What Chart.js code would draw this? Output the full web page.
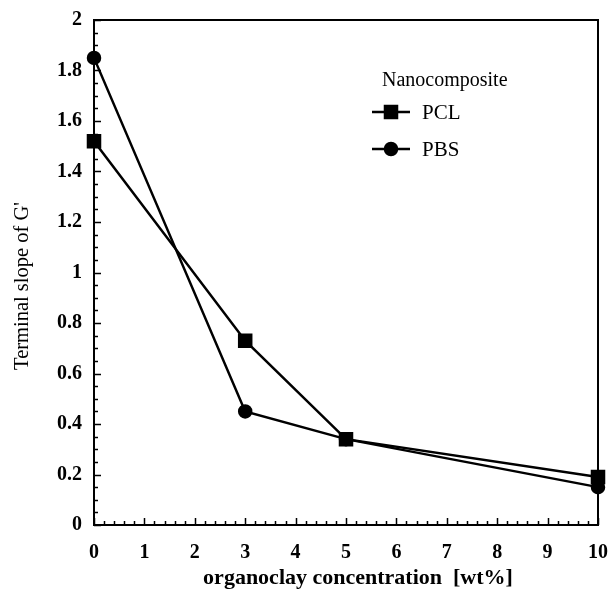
<!DOCTYPE html>
<html><head><meta charset="utf-8">
<script src="https://cdn.jsdelivr.net/npm/chart.js@4"></script>
<style>html,body{margin:0;padding:0;background:#fff}#wrap{width:611px;height:600px}</style>
</head><body><div id="wrap"><canvas id="c" width="611" height="600"></canvas></div>
<script>
const concentration = [0, 3, 5, 10];
const pclSlope = [1.52, 0.73, 0.34, 0.19];
const pbsSlope = [1.85, 0.45, 0.34, 0.15];
const seriesNames = ['PCL', 'PBS'];
const legendTitle = 'Nanocomposite';
const xTitle = 'organoclay concentration  [wt%]';
const yTitle = "Terminal slope of G'";
const xRange = [0, 10];
const yRange = [0, 2];

const FONT = "'Liberation Serif', 'Times New Roman', serif";

const frame = {
  id: 'frame',
  afterDraw(chart) {
    const ctx = chart.ctx, a = chart.chartArea;
    const xs = chart.scales.x, ys = chart.scales.y;
    ctx.save();
    ctx.strokeStyle = '#000';
    ctx.lineWidth = 2;
    ctx.strokeRect(a.left, a.top, a.right - a.left, a.bottom - a.top);
    ctx.lineWidth = 1.5;
    ctx.beginPath();
    // x ticks: major 1, minor 0.2
    for (let i = 0; i <= 50; i++) {
      const v = xRange[0] + i * 0.2;
      const px = Math.round(xs.getPixelForValue(v)) + 0.5;
      const len = (i % 5 === 0) ? 7 : 4;
      ctx.moveTo(px, a.bottom);
      ctx.lineTo(px, a.bottom - len);
    }
    // y ticks: major 0.2, minor 0.05
    for (let i = 0; i <= 40; i++) {
      const v = yRange[0] + i * 0.05;
      const py = Math.round(ys.getPixelForValue(v)) + 0.5;
      const len = (i % 4 === 0) ? 7 : 4;
      ctx.moveTo(a.left, py);
      ctx.lineTo(a.left + len, py);
    }
    ctx.stroke();

    // axis titles
    ctx.fillStyle = '#000';
    ctx.textAlign = 'center';
    ctx.textBaseline = 'middle';
    ctx.font = 'bold 22px ' + FONT;
    ctx.fillText(xTitle, 358, 578);
    ctx.save();
    ctx.translate(23, 286);
    ctx.rotate(-Math.PI / 2);
    ctx.font = '20.5px ' + FONT;
    ctx.fillText(yTitle, 0, 0);
    ctx.restore();

    // legend
    ctx.textAlign = 'left';
    ctx.font = '20px ' + FONT;
    ctx.fillText(legendTitle, 382, 81);
    const rows = [112, 149];
    chart.data.datasets.forEach((ds, i) => {
      const y = rows[i];
      ctx.lineWidth = ds.borderWidth;
      ctx.strokeStyle = ds.borderColor;
      ctx.beginPath();
      ctx.moveTo(372, y);
      ctx.lineTo(410, y);
      ctx.stroke();
      Chart.helpers.drawPoint(ctx, {pointStyle: ds.pointStyle, radius: ds.pointRadius, borderWidth: 1}, 391, y);
      ctx.fillStyle = ds.pointBackgroundColor;
      ctx.fill();
      ctx.fillStyle = '#000';
      ctx.font = '21px ' + FONT;
      ctx.fillText(ds.label, 422, y + 1);
    });
    ctx.restore();
  }
};

const mk = (ys) => concentration.map((x, i) => ({x, y: ys[i]}));
const fmt = (v) => String(+Number(v).toFixed(2));

new Chart(document.getElementById('c'), {
  type: 'line',
  data: {
    datasets: [
      {label: seriesNames[0], data: mk(pclSlope), pointStyle: 'rect', pointRadius: 8.5,
       borderColor: '#000', backgroundColor: '#000', pointBackgroundColor: '#000', pointBorderColor: '#000',
       borderWidth: 2.5, tension: 0, clip: false},
      {label: seriesNames[1], data: mk(pbsSlope), pointStyle: 'circle', pointRadius: 6,
       borderColor: '#000', backgroundColor: '#000', pointBackgroundColor: '#000', pointBorderColor: '#000',
       borderWidth: 2.5, tension: 0, clip: false}
    ]
  },
  options: {
    responsive: false,
    animation: false,
    layout: {padding: {left: 0, right: 13, top: 20, bottom: 0}},
    plugins: {legend: {display: false}, tooltip: {enabled: false}},
    scales: {
      x: {
        type: 'linear', min: xRange[0], max: xRange[1],
        grid: {display: false, drawTicks: false},
        border: {display: false},
        ticks: {stepSize: 1, padding: 16, color: '#000', callback: fmt, font: {family: FONT, size: 20, weight: 'bold'}},
        afterFit(s) { s.height = 75; s.paddingLeft = 0; s.paddingRight = 0; }
      },
      y: {
        type: 'linear', min: yRange[0], max: yRange[1],
        grid: {display: false, drawTicks: false},
        border: {display: false},
        ticks: {stepSize: 0.2, padding: 12, color: '#000', callback: fmt, font: {family: FONT, size: 20, weight: 'bold'}},
        afterFit(s) { s.width = 94; s.paddingTop = 0; s.paddingBottom = 0; }
      }
    }
  },
  plugins: [frame]
});
</script>
</body></html>
